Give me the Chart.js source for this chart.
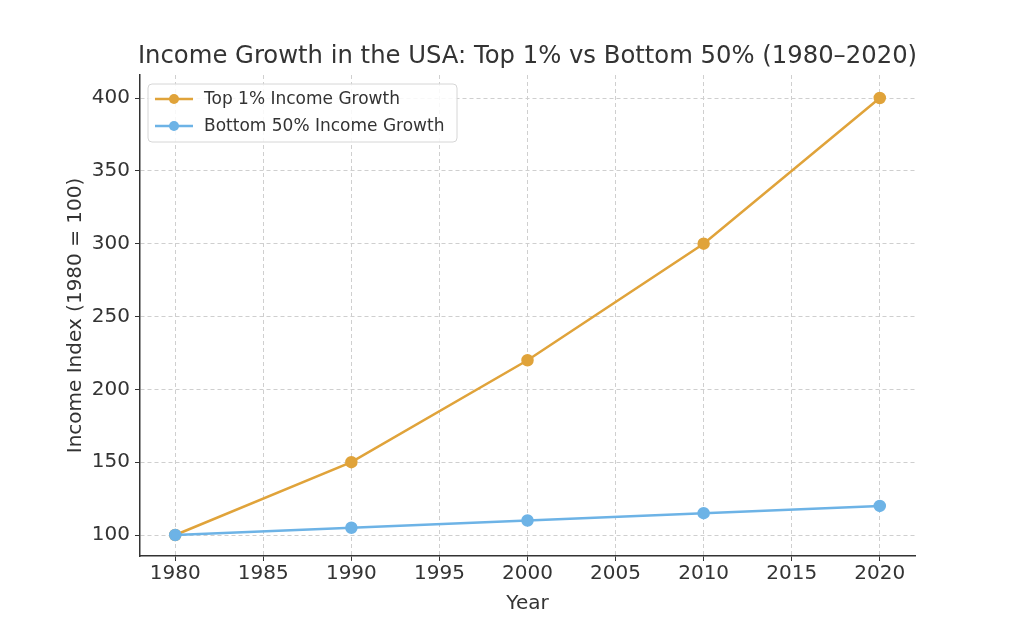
<!DOCTYPE html>
<html lang="en">
<head>
    <meta charset="UTF-8">
    <title>Income Growth</title>
    <script src="https://cdn.jsdelivr.net/npm/chart.js"></script>
    <style>
        html, body { margin: 0; padding: 0; background: #fff; }
        #wrap { width: 1024px; height: 629px; position: relative; }
    </style>
</head>
<body>
    <div id="wrap"><canvas id="incomeChart"></canvas></div>
    <script>
        const years = [1980, 1990, 2000, 2010, 2020];
        const top1 = [100, 150, 220, 300, 400];
        const bottom50 = [100, 105, 110, 115, 120];
        const xTicks = [1980, 1985, 1990, 1995, 2000, 2005, 2010, 2015, 2020];
        const yTicks = [100, 150, 200, 250, 300, 350, 400];

        const FONT = "'DejaVu Sans', sans-serif";
        const TEXT = '#333333';

        // title + legend drawn inside the plot, matplotlib style
        const overlay = {
            id: 'overlay',
            afterDraw(chart) {
                const ctx = chart.ctx;
                const area = chart.chartArea;
                ctx.save();
                ctx.fillStyle = TEXT;
                ctx.font = "24.3px " + FONT;
                ctx.textAlign = 'center';
                ctx.textBaseline = 'middle';
                ctx.fillText('Income Growth in the USA: Top 1% vs Bottom 50% (1980–2020)', (area.left + area.right) / 2, 57);

                const bx = area.left + 8, by = area.top + 9, bw = 309, bh = 58;
                ctx.beginPath();
                ctx.roundRect(bx, by, bw, bh, 4);
                ctx.fillStyle = 'rgba(255,255,255,0.85)';
                ctx.fill();
                ctx.strokeStyle = '#d6d6d6';
                ctx.lineWidth = 1;
                ctx.stroke();

                ctx.font = "17px " + FONT;
                ctx.textAlign = 'left';
                chart.data.datasets.forEach((ds, i) => {
                    const y = by + 15 + i * 27;
                    ctx.strokeStyle = ds.borderColor;
                    ctx.lineWidth = 2.5;
                    ctx.beginPath();
                    ctx.moveTo(bx + 7, y);
                    ctx.lineTo(bx + 45, y);
                    ctx.stroke();
                    ctx.fillStyle = ds.borderColor;
                    ctx.beginPath();
                    ctx.arc(bx + 26, y, 5, 0, Math.PI * 2);
                    ctx.fill();
                    ctx.fillStyle = TEXT;
                    ctx.fillText(ds.label, bx + 56, y + 1);
                });
                ctx.restore();
            }
        };

        const gridOpts = { color: '#cfcfcf', tickBorderDash: [], tickColor: '#333', tickLength: 5, tickWidth: 1 };
        const borderOpts = { color: '#333', width: 1.5, dash: [4, 3] };

        const ctx = document.getElementById('incomeChart').getContext('2d');
        new Chart(ctx, {
            type: 'line',
            data: {
                datasets: [{
                    label: 'Top 1% Income Growth',
                    data: years.map((y, i) => ({ x: y, y: top1[i] })),
                    borderColor: '#E0A33A',
                    backgroundColor: '#E0A33A',
                    borderWidth: 2.5,
                    pointRadius: 5,
                    pointHoverRadius: 5,
                    order: 1
                }, {
                    label: 'Bottom 50% Income Growth',
                    data: years.map((y, i) => ({ x: y, y: bottom50[i] })),
                    borderColor: '#6DB3E6',
                    backgroundColor: '#6DB3E6',
                    borderWidth: 2.5,
                    pointRadius: 5,
                    pointHoverRadius: 5,
                    order: 0
                }]
            },
            options: {
                responsive: true,
                maintainAspectRatio: false,
                animation: false,
                layout: { padding: { left: 64, right: 109, top: 75, bottom: 13 } },
                plugins: {
                    legend: { display: false },
                    title: { display: false },
                    tooltip: { enabled: false }
                },
                scales: {
                    x: {
                        type: 'linear',
                        min: 1978,
                        max: 2022,
                        afterBuildTicks: s => { s.ticks = xTicks.map(v => ({ value: v })); },
                        afterFit: s => { s.height = 60; },
                        ticks: { color: TEXT, font: { family: FONT, size: 20 }, padding: 1, maxRotation: 0, callback: v => String(v) },
                        grid: gridOpts,
                        border: borderOpts,
                        title: { display: true, text: 'Year', color: TEXT, font: { family: FONT, size: 20 }, padding: { top: 0, bottom: 0 } }
                    },
                    y: {
                        min: 85.6,
                        max: 415.8,
                        afterBuildTicks: s => { s.ticks = yTicks.map(v => ({ value: v })); },
                        afterFit: s => { s.width = 76; },
                        ticks: { color: TEXT, font: { family: FONT, size: 20 }, padding: 5 },
                        grid: gridOpts,
                        border: borderOpts,
                        title: { display: true, text: 'Income Index (1980 = 100)', color: TEXT, font: { family: FONT, size: 20 }, padding: { top: 0, bottom: 0 } }
                    }
                }
            },
            plugins: [overlay]
        });
    </script>
</body>
</html>
